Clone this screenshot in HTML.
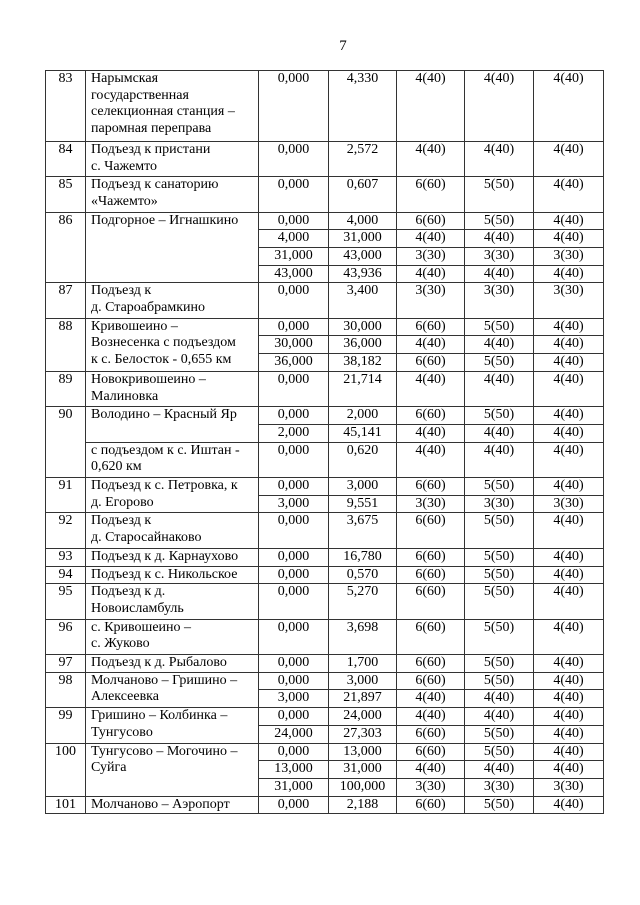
<!DOCTYPE html>
<html><head><meta charset="utf-8"><style>
body{margin:0;background:#fff;width:640px;height:905px;position:relative;font-family:"Liberation Serif",serif;font-size:14px;color:#000}
.pn{position:absolute;top:38px;left:0;width:686px;text-align:center;font-size:15px}
table{position:absolute;left:45px;top:70px;border-collapse:collapse;table-layout:fixed;width:558px}
td{border:1px solid #333;padding:0 4px;vertical-align:top;line-height:16.7px;text-align:center;white-space:nowrap;overflow:hidden}
td.n{text-align:left;padding-left:5px}
tr{height:17.7px}
tr.h2{height:35.4px}tr.h4{height:70.8px}
</style></head><body>
<div class="pn">7</div>
<table>
<colgroup><col style="width:40px"><col style="width:173px"><col style="width:70px"><col style="width:68px"><col style="width:68px"><col style="width:69px"><col style="width:70px"></colgroup>
<tr class="h4"><td>83</td><td class="n">Нарымская<br>государственная<br>селекционная станция –<br>паромная переправа</td><td>0,000</td><td>4,330</td><td>4(40)</td><td>4(40)</td><td>4(40)</td></tr>
<tr class="h2"><td>84</td><td class="n">Подъезд к пристани<br>с. Чажемто</td><td>0,000</td><td>2,572</td><td>4(40)</td><td>4(40)</td><td>4(40)</td></tr>
<tr class="h2"><td>85</td><td class="n">Подъезд к санаторию<br>«Чажемто»</td><td>0,000</td><td>0,607</td><td>6(60)</td><td>5(50)</td><td>4(40)</td></tr>
<tr><td rowspan="4">86</td><td class="n" rowspan="4">Подгорное – Игнашкино</td><td>0,000</td><td>4,000</td><td>6(60)</td><td>5(50)</td><td>4(40)</td></tr>
<tr><td>4,000</td><td>31,000</td><td>4(40)</td><td>4(40)</td><td>4(40)</td></tr>
<tr><td>31,000</td><td>43,000</td><td>3(30)</td><td>3(30)</td><td>3(30)</td></tr>
<tr><td>43,000</td><td>43,936</td><td>4(40)</td><td>4(40)</td><td>4(40)</td></tr>
<tr class="h2"><td>87</td><td class="n">Подъезд к<br>д. Староабрамкино</td><td>0,000</td><td>3,400</td><td>3(30)</td><td>3(30)</td><td>3(30)</td></tr>
<tr><td rowspan="3">88</td><td class="n" rowspan="3">Кривошеино –<br>Вознесенка с подъездом<br>к с. Белосток - 0,655 км</td><td>0,000</td><td>30,000</td><td>6(60)</td><td>5(50)</td><td>4(40)</td></tr>
<tr><td>30,000</td><td>36,000</td><td>4(40)</td><td>4(40)</td><td>4(40)</td></tr>
<tr><td>36,000</td><td>38,182</td><td>6(60)</td><td>5(50)</td><td>4(40)</td></tr>
<tr class="h2"><td>89</td><td class="n">Новокривошеино –<br>Малиновка</td><td>0,000</td><td>21,714</td><td>4(40)</td><td>4(40)</td><td>4(40)</td></tr>
<tr><td rowspan="3">90</td><td class="n" rowspan="2">Володино – Красный Яр</td><td>0,000</td><td>2,000</td><td>6(60)</td><td>5(50)</td><td>4(40)</td></tr>
<tr><td>2,000</td><td>45,141</td><td>4(40)</td><td>4(40)</td><td>4(40)</td></tr>
<tr class="h2"><td class="n">с подъездом к с. Иштан -<br>0,620 км</td><td>0,000</td><td>0,620</td><td>4(40)</td><td>4(40)</td><td>4(40)</td></tr>
<tr><td rowspan="2">91</td><td class="n" rowspan="2">Подъезд к с. Петровка, к<br>д. Егорово</td><td>0,000</td><td>3,000</td><td>6(60)</td><td>5(50)</td><td>4(40)</td></tr>
<tr><td>3,000</td><td>9,551</td><td>3(30)</td><td>3(30)</td><td>3(30)</td></tr>
<tr class="h2"><td>92</td><td class="n">Подъезд к<br>д. Старосайнаково</td><td>0,000</td><td>3,675</td><td>6(60)</td><td>5(50)</td><td>4(40)</td></tr>
<tr><td>93</td><td class="n">Подъезд к д. Карнаухово</td><td>0,000</td><td>16,780</td><td>6(60)</td><td>5(50)</td><td>4(40)</td></tr>
<tr><td>94</td><td class="n">Подъезд к с. Никольское</td><td>0,000</td><td>0,570</td><td>6(60)</td><td>5(50)</td><td>4(40)</td></tr>
<tr class="h2"><td>95</td><td class="n">Подъезд к д.<br>Новоисламбуль</td><td>0,000</td><td>5,270</td><td>6(60)</td><td>5(50)</td><td>4(40)</td></tr>
<tr class="h2"><td>96</td><td class="n">с. Кривошеино –<br>с. Жуково</td><td>0,000</td><td>3,698</td><td>6(60)</td><td>5(50)</td><td>4(40)</td></tr>
<tr><td>97</td><td class="n">Подъезд к д. Рыбалово</td><td>0,000</td><td>1,700</td><td>6(60)</td><td>5(50)</td><td>4(40)</td></tr>
<tr><td rowspan="2">98</td><td class="n" rowspan="2">Молчаново – Гришино –<br>Алексеевка</td><td>0,000</td><td>3,000</td><td>6(60)</td><td>5(50)</td><td>4(40)</td></tr>
<tr><td>3,000</td><td>21,897</td><td>4(40)</td><td>4(40)</td><td>4(40)</td></tr>
<tr><td rowspan="2">99</td><td class="n" rowspan="2">Гришино – Колбинка –<br>Тунгусово</td><td>0,000</td><td>24,000</td><td>4(40)</td><td>4(40)</td><td>4(40)</td></tr>
<tr><td>24,000</td><td>27,303</td><td>6(60)</td><td>5(50)</td><td>4(40)</td></tr>
<tr><td rowspan="3">100</td><td class="n" rowspan="3">Тунгусово – Могочино –<br>Суйга</td><td>0,000</td><td>13,000</td><td>6(60)</td><td>5(50)</td><td>4(40)</td></tr>
<tr><td>13,000</td><td>31,000</td><td>4(40)</td><td>4(40)</td><td>4(40)</td></tr>
<tr><td>31,000</td><td>100,000</td><td>3(30)</td><td>3(30)</td><td>3(30)</td></tr>
<tr><td>101</td><td class="n">Молчаново – Аэропорт</td><td>0,000</td><td>2,188</td><td>6(60)</td><td>5(50)</td><td>4(40)</td></tr>
</table>
</body></html>
